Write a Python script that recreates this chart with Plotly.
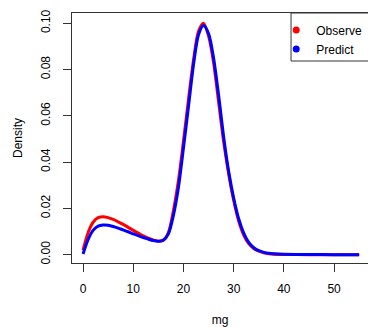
import plotly.graph_objects as go

# mg grid (x) and density values
mg = [0, 1, 2, 3, 4, 5, 6, 7, 8, 9, 10, 11, 12, 13, 14, 15, 16, 17, 18, 19,
      20, 21, 22, 23, 24, 25, 26, 27, 28, 29, 30, 31, 32, 33, 34, 35, 36, 37,
      38, 40, 45, 50, 55]

observe = [0.0020, 0.0095, 0.0140, 0.0160, 0.0164, 0.0160, 0.0152, 0.0142,
           0.0131, 0.0118, 0.0105, 0.0093, 0.0081, 0.0071, 0.0063, 0.0058,
           0.0062, 0.0095, 0.0190, 0.0320, 0.0490, 0.0670, 0.0840, 0.0965,
           0.1000, 0.0945, 0.0830, 0.0660, 0.0490, 0.0350, 0.0235, 0.0145,
           0.0085, 0.0048, 0.0027, 0.0015, 0.0008, 0.0004, 0.0002, 0.0001,
           0.0000, 0.0000, 0.0000]

predict = [0.0003, 0.0065, 0.0105, 0.0123, 0.0128, 0.0127, 0.0122, 0.0115,
           0.0107, 0.0099, 0.0090, 0.0082, 0.0074, 0.0067, 0.0061, 0.0058,
           0.0063, 0.0090, 0.0170, 0.0290, 0.0460, 0.0640, 0.0820, 0.0950,
           0.0990, 0.0955, 0.0850, 0.0690, 0.0510, 0.0360, 0.0245, 0.0155,
           0.0093, 0.0053, 0.0030, 0.0017, 0.0010, 0.0006, 0.0004, 0.0002,
           0.0001, 0.0000, 0.0000]

x_ticks = [0, 10, 20, 30, 40, 50]
y_ticks = [0.00, 0.02, 0.04, 0.06, 0.08, 0.10]
y_tick_labels = ["0.00", "0.02", "0.04", "0.06", "0.08", "0.10"]

FONT = "Liberation Sans, Arial, Helvetica, sans-serif"

fig = go.Figure()
fig.add_trace(go.Scatter(x=mg, y=observe, mode="lines", name="Observe",
                         line=dict(color="#ff0000", width=3, shape="spline", smoothing=0.8),
                         showlegend=False))
fig.add_trace(go.Scatter(x=mg, y=predict, mode="lines", name="Predict",
                         line=dict(color="#0000ff", width=3, shape="spline", smoothing=0.8),
                         showlegend=False))
# legend entries (dots)
fig.add_trace(go.Scatter(x=[None], y=[None], mode="markers", name="Observe",
                         marker=dict(color="#ff0000", size=7)))
fig.add_trace(go.Scatter(x=[None], y=[None], mode="markers", name="Predict",
                         marker=dict(color="#0000ff", size=7)))

fig.update_layout(
    width=368, height=327,
    margin=dict(l=72, r=0, t=13, b=64, autoexpand=False),
    paper_bgcolor="white", plot_bgcolor="white",
    font=dict(family=FONT, size=12, color="black"),
    xaxis=dict(range=[-2.2, 56.76], tickvals=x_ticks, ticks="outside", ticklen=8,
               tickcolor="#333", showline=True, linecolor="#333", linewidth=1,
               mirror=True, showgrid=False, zeroline=False, automargin=False,
               ticklabelstandoff=7,
               title=dict(text="mg", standoff=21, font=dict(size=12))),
    yaxis=dict(range=[-0.0036, 0.1044], tickvals=y_ticks, ticktext=y_tick_labels,
               ticks="outside", ticklen=8, tickcolor="#333", tickangle=-90,
               showline=True, linecolor="#333", linewidth=1, showgrid=False,
               zeroline=False, automargin=False, ticklabelstandoff=8,
               title=dict(text="Density", standoff=14, font=dict(size=12))),
    legend=dict(x=0.69, y=0.99, xanchor="left", yanchor="top",
                bgcolor="rgba(0,0,0,0)", borderwidth=0,
                font=dict(size=12), itemwidth=30, tracegroupgap=0),
    shapes=[dict(type="rect", xref="paper", yref="paper",
                 x0=0.74, x1=1.02, y0=(263 - 61) / 250, y1=1.0,
                 line=dict(color="#333", width=1), fillcolor="rgba(0,0,0,0)")],
)

fig.write_html("out.html", config={"displayModeBar": False},
               post_script="document.body.style.margin='0';")
